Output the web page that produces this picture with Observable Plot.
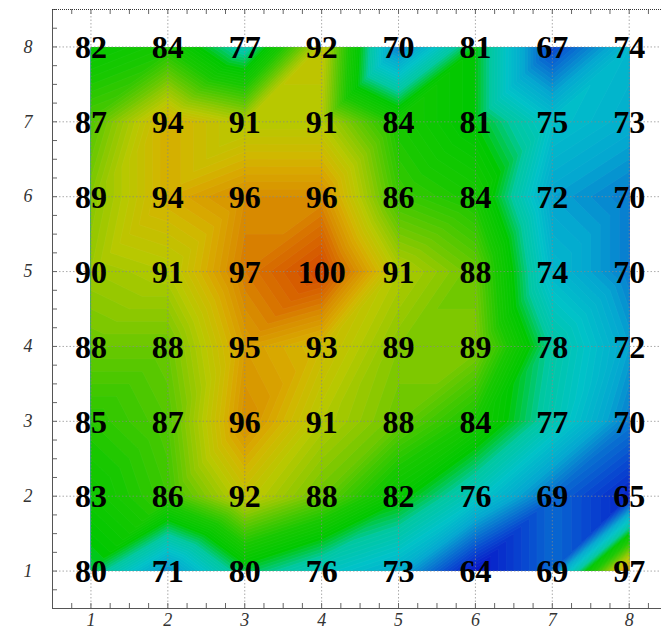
<!DOCTYPE html>
<html><head><meta charset="utf-8">
<script src="https://cdn.jsdelivr.net/npm/d3@7"></script>
<script src="https://cdn.jsdelivr.net/npm/@observablehq/plot@0.6"></script>
<style>body{margin:0;background:#fff}</style>
</head><body><div id="chart"></div>
<script>
// grid columns / rows
const xs = [1, 2, 3, 4, 5, 6, 7, 8];
const ys = [1, 2, 3, 4, 5, 6, 7, 8];
// values per row (x = 1..8)
const row1 = [80, 71, 80, 76, 73, 64, 69, 97];
const row2 = [83, 86, 92, 88, 82, 76, 69, 65];
const row3 = [85, 87, 96, 91, 88, 84, 77, 70];
const row4 = [88, 88, 95, 93, 89, 89, 78, 72];
const row5 = [90, 91, 97, 100, 91, 88, 74, 70];
const row6 = [89, 94, 96, 96, 86, 84, 72, 70];
const row7 = [87, 94, 91, 91, 84, 81, 75, 73];
const row8 = [82, 84, 77, 92, 70, 81, 67, 74];
const tickLabels = [1, 2, 3, 4, 5, 6, 7, 8];

const rows = [row1, row2, row3, row4, row5, row6, row7, row8];
const points = [];
ys.forEach((y, j) => xs.forEach((x, i) => points.push({x, y, v: rows[j][i]})));

// piecewise-linear interpolation on triangles (diagonal lower-left -> upper-right)
function interp(x, y) {
  let i = Math.min(Math.max(Math.floor(x) - 1, 0), 6);
  let j = Math.min(Math.max(Math.floor(y) - 1, 0), 6);
  const fx = x - xs[i], fy = y - ys[j];
  const v00 = rows[j][i], v10 = rows[j][i + 1], v01 = rows[j + 1][i], v11 = rows[j + 1][i + 1];
  if (fx >= fy) return v00 + fx * (v10 - v00) + fy * (v11 - v10);
  return v00 + fy * (v01 - v00) + fx * (v11 - v01);
}

const minor = d3.range(0.5, 8.51, 0.25);
const serif = "Liberation Serif";

const chart = Plot.plot({
  width: 661,
  height: 630,
  marginLeft: 52,
  marginRight: 0,
  marginTop: 9,
  marginBottom: 22,
  style: {fontFamily: serif, background: "#fff"},
  x: {domain: [0.5, 8.42], axis: null},
  y: {domain: [0.5, 8.5], axis: null},
  color: {
    type: "linear",
    domain: [64, 67, 70, 72, 75, 78, 81, 84, 86, 88, 89, 91, 93, 94, 96, 97, 100],
    range: ["#0818c8", "#0848d0", "#0880d0", "#04a8d0", "#00c2c8", "#00c8a0", "#00c800", "#18c800", "#40c800", "#70c800", "#8cc800", "#b8c800", "#d0b800", "#d8a800", "#d88a00", "#d87400", "#d44400"],
    interpolate: "rgb"
  },
  marks: [
    Plot.contour({
      fill: interp,
      x1: 1, y1: 1, x2: 8, y2: 8,
      pixelSize: 1,
      thresholds: d3.range(60, 101, 0.5),
      stroke: "white", strokeOpacity: 0.08, strokeWidth: 0.5
    }),
    // grid
    Plot.ruleX(tickLabels, {stroke: "#888", strokeDasharray: "1.5,2", strokeOpacity: 0.7}),
    Plot.ruleY(tickLabels, {stroke: "#888", strokeDasharray: "1.5,2", strokeOpacity: 0.7}),
    // minor ticks
    Plot.tickX(minor, {x: d => d, stroke: "#666", insetTop: 594}),
    Plot.tickX(minor, {x: d => d, stroke: "#666", insetBottom: 594}),
    Plot.tickY(minor, {y: d => d, stroke: "#666", insetRight: 604}),
    // frame
    Plot.ruleX([0.5], {stroke: "#555"}),
    Plot.ruleY([0.5], {stroke: "#555"}),
    Plot.ruleY([8.5], {stroke: "#333", strokeDasharray: "1,1"}),
    // axis labels
    Plot.text(tickLabels, {x: d => d, frameAnchor: "bottom", dy: 17, text: d => String(d), fontSize: 18, fontStyle: "italic", fill: "#333", fontFamily: serif}),
    Plot.text(tickLabels, {y: d => d, frameAnchor: "left", dx: -20, textAnchor: "end", text: d => String(d), fontSize: 18, fontStyle: "italic", fill: "#333", fontFamily: serif}),
    // values
    Plot.text(points, {x: "x", y: "y", text: d => String(d.v), fontSize: 32, fontWeight: "bold", fill: "black", fontFamily: serif, dy: 1})
  ]
});
document.getElementById("chart").appendChild(chart);
</script>
</body></html>
